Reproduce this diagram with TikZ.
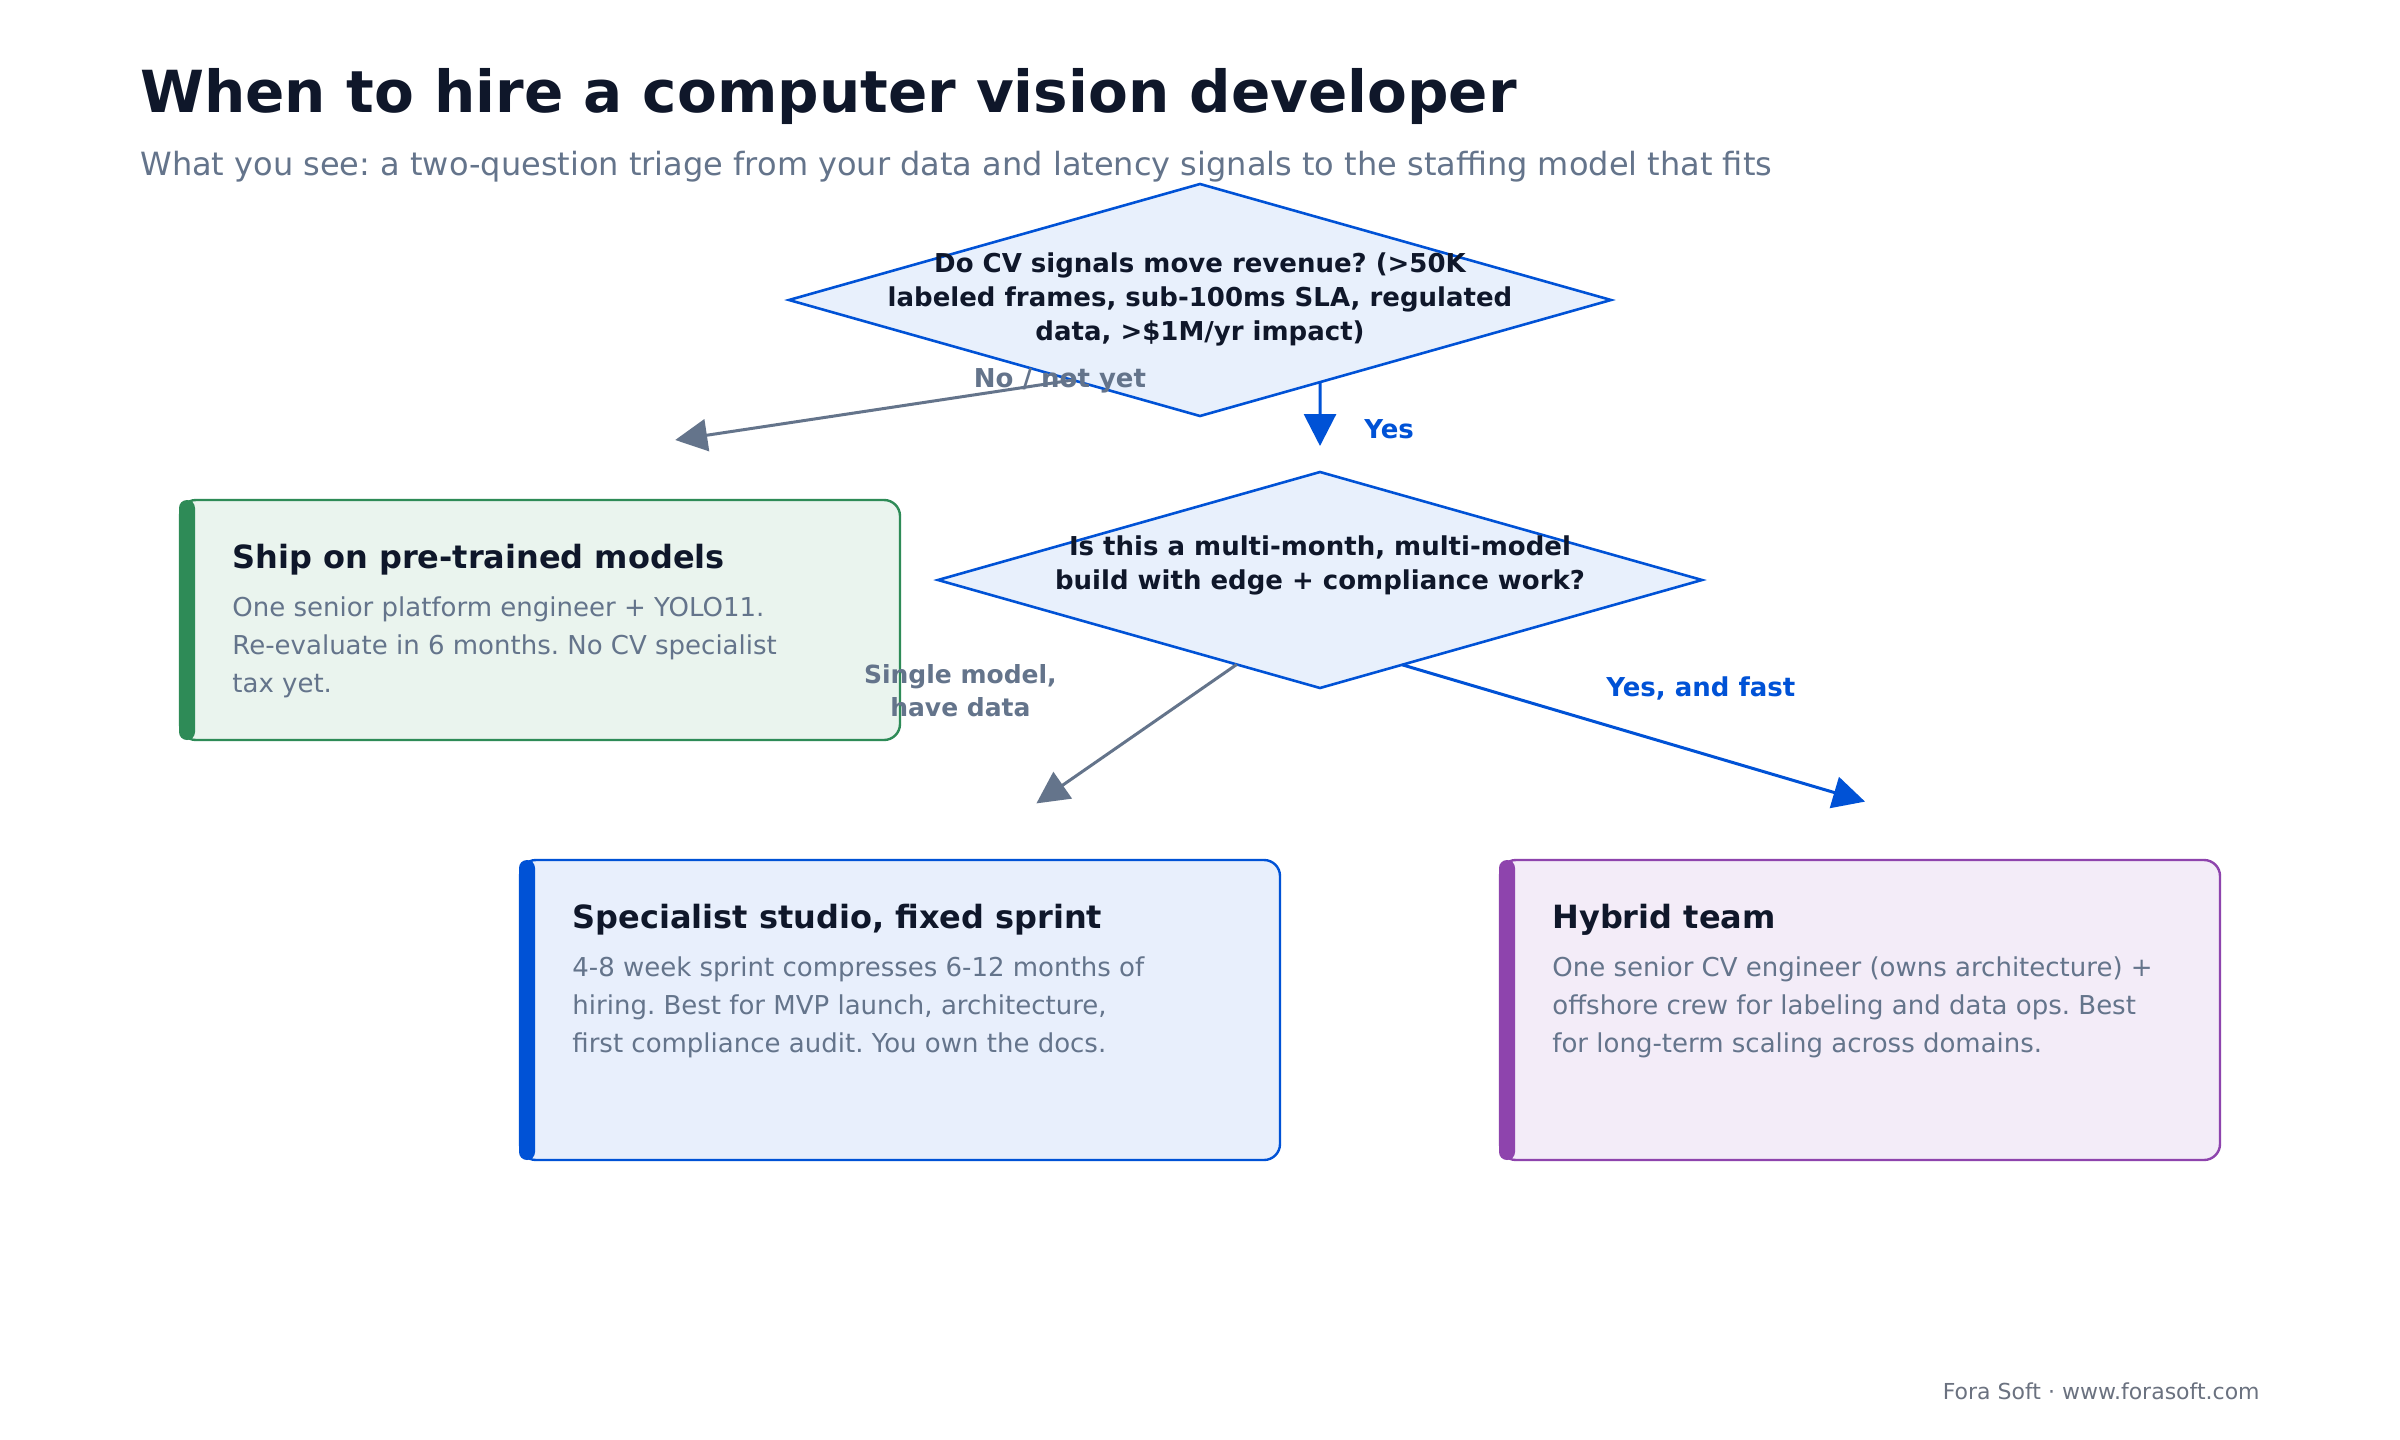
\documentclass[tikz,border=0pt]{standalone}
\usepackage{fontspec}
\setmainfont{DejaVu Sans}
\frenchspacing
\usetikzlibrary{shapes.geometric,arrows.meta,calc}
\definecolor{ink}{HTML}{0F172A}
\definecolor{slate}{HTML}{64748B}
\definecolor{foot}{HTML}{6B7280}
\definecolor{cvblue}{HTML}{0052D6}
\definecolor{dfill}{HTML}{E8F0FC}
\definecolor{cgreen}{HTML}{2E8B57}
\definecolor{gfill}{HTML}{EAF4EE}
\definecolor{cpurple}{HTML}{8E44AD}
\definecolor{pfill}{HTML}{F3ECF8}
\definecolor{bfill}{HTML}{E8EFFC}
\begin{document}
\begin{tikzpicture}[x=1pt,y=-1pt,
  dq/.style={diamond, draw=cvblue, fill=dfill, line width=1.3pt, inner sep=0pt, outer sep=0pt},
  card/.style={rectangle, rounded corners=8pt, line width=1.2pt, inner sep=0pt, outer sep=0pt, anchor=north west},
  qtext/.style={font=\fontsize{13}{13}\selectfont\bfseries, text=ink, anchor=base, inner sep=0pt},
  ctitle/.style={font=\fontsize{16}{16}\selectfont\bfseries, text=ink, anchor=base west, inner sep=0pt},
  cbody/.style={font=\fontsize{13}{13}\selectfont, text=slate, anchor=base west, inner sep=0pt},
  elabel/.style={font=\fontsize{13}{13}\selectfont\bfseries, anchor=base, inner sep=0pt},
  flow/.style={line width=1.5pt, -{Triangle[length=16pt,width=16pt]}},
]
\useasboundingbox[fill=white] (0,0) rectangle (1200,720);

% title
\node[font=\fontsize{29}{29}\selectfont\bfseries, text=ink, anchor=base west, inner sep=0pt] (title) at (70,56) {When to hire a computer vision developer};
\node[font=\fontsize{16}{16}\selectfont, text=slate, anchor=base west, inner sep=0pt] (subtitle) at (70,87.5) {What you see: a two-question triage from your data and latency signals to the staffing model that fits};

% decisions
\node[dq, minimum width=411pt, minimum height=116pt] (d1) at (600,150) {};
\node[dq, minimum width=382pt, minimum height=108pt] (d2) at (660,290) {};

\node[qtext] (d1a) at (600,136) {Do CV signals move revenue? (>50K};
\node[qtext] (d1b) at (600,153) {labeled frames, sub-100ms SLA, regulated};
\node[qtext] (d1c) at (600,170) {data, >\$1M/yr impact)};
\node[qtext] (d2a) at (660,277.5) {Is this a multi-month, multi-model};
\node[qtext] (d2b) at (660,294.5) {build with edge + compliance work?};

% cards
\node[card, draw=cgreen, fill=gfill, minimum width=360pt, minimum height=120pt] (c1) at (90,250) {};
\fill[cgreen, rounded corners=4pt] (89.5,250) rectangle (97.5,370);
\node[ctitle] (c1t) at (116,284) {Ship on pre-trained models};
\node[cbody] (c1a) at (116,308) {One senior platform engineer + YOLO11.};
\node[cbody] (c1b) at (116,327) {Re-evaluate in 6 months. No CV specialist};
\node[cbody] (c1c) at (116,346) {tax yet.};

\node[card, draw=cvblue, fill=bfill, minimum width=380pt, minimum height=150pt] (c2) at (260,430) {};
\fill[cvblue, rounded corners=4pt] (259.5,430) rectangle (267.5,580);
\node[ctitle] (c2t) at (286,464) {Specialist studio, fixed sprint};
\node[cbody] (c2a) at (286,488) {4-8 week sprint compresses 6-12 months of};
\node[cbody] (c2b) at (286,507) {hiring. Best for MVP launch, architecture,};
\node[cbody] (c2c) at (286,526) {first compliance audit. You own the docs.};

\node[card, draw=cpurple, fill=pfill, minimum width=360pt, minimum height=150pt] (c3) at (750,430) {};
\fill[cpurple, rounded corners=4pt] (749.5,430) rectangle (757.5,580);
\node[ctitle] (c3t) at (776,464) {Hybrid team};
\node[cbody] (c3a) at (776,488) {One senior CV engineer (owns architecture) +};
\node[cbody] (c3b) at (776,507) {offshore crew for labeling and data ops. Best};
\node[cbody] (c3c) at (776,526) {for long-term scaling across domains.};

% connectors
\coordinate (noend) at (337.6,220);
\coordinate (yesend) at (660,223);
\coordinate (singleend) at (518.2,401.7);
\coordinate (fastend) at (932.5,400.8);

\draw[flow, draw=slate, fill=slate] ($(d1.south)!0.31!(d1.west)$) -- (noend);
\draw[flow, draw=cvblue, fill=cvblue] ($(d1.south)!0.292!(d1.east)$) -- (yesend);
\draw[flow, draw=slate, fill=slate] ($(d2.south)!0.218!(d2.west)$) -- (singleend);
\draw[flow, draw=cvblue, fill=cvblue] ($(d2.south)!0.215!(d2.east)$) -- (fastend);

\node[elabel, text=slate] (lno) at (530,193.7) {No / not yet};
\node[elabel, text=cvblue, anchor=base west] (lyes) at (682,219) {Yes};
\node[elabel, text=slate, font=\fontsize{12.5}{12.5}\selectfont\bfseries] (lsingle1) at (480.2,341.5) {Single model,};
\node[elabel, text=slate, font=\fontsize{12.5}{12.5}\selectfont\bfseries] (lsingle2) at (480.2,358.3) {have data};
\node[elabel, text=cvblue] (lfast) at (850.4,348) {Yes, and fast};

% footer
\node[font=\fontsize{11}{11}\selectfont, text=foot, anchor=base east, inner sep=0pt] (footer) at (1130,699.7) {Fora Soft · www.forasoft.com};
\end{tikzpicture}
\end{document}
